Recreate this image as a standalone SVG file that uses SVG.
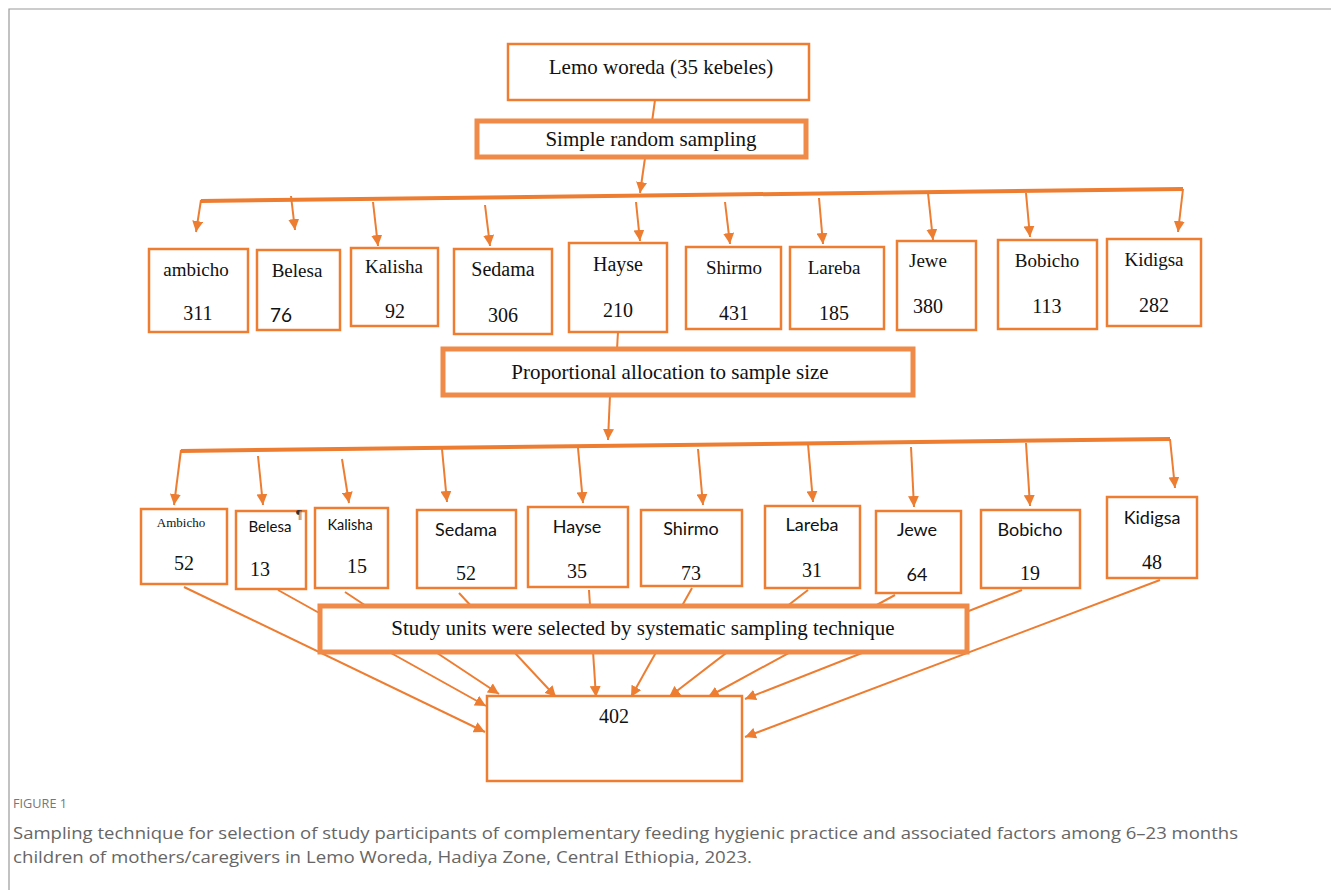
<svg xmlns="http://www.w3.org/2000/svg" width="1331" height="890" viewBox="0 0 1331 890">
<style>
.box{fill:#fff;stroke:#ED7D31;stroke-width:2.5}
.pbox{fill:#fff;stroke:#F08A48;stroke-width:5}
.ln{stroke:#ED7D31;stroke-width:2;fill:none}
.bar{stroke:#ED7D31;stroke-width:4;fill:none}
.ser{font-family:"Liberation Serif","Times New Roman",serif;font-size:19px;fill:#111;text-anchor:middle}
.big{font-size:21px}
.num{font-family:"Liberation Serif","Times New Roman",serif;font-size:20px;fill:#111;text-anchor:middle}
.sans{font-family:Lato,"Open Sans","Liberation Sans",sans-serif;font-size:18px;fill:#111;text-anchor:middle}
.cap{font-family:"Open Sans","Noto Sans","Liberation Sans",sans-serif;fill:#666}
</style>
<defs>
<marker id="ah" viewBox="0 0 10 10" refX="10" refY="5" markerWidth="11" markerHeight="11" markerUnits="userSpaceOnUse" orient="auto">
<path d="M0,0 L10,5 L0,10 z" fill="#ED7D31"/>
</marker>
</defs>
<rect width="1331" height="890" fill="#fff"/>
<path d="M9,890 V9 H1331" fill="none" stroke="#9a9a9a" stroke-width="1.2"/>

<g id="connectors">
<line class="ln" x1="655" y1="100" x2="652" y2="122"/>
<line class="ln" x1="645" y1="158" x2="640" y2="193" marker-end="url(#ah)"/>
<line class="bar" x1="201" y1="201" x2="1183" y2="189"/>
<line class="ln" x1="201" y1="200" x2="196" y2="232" marker-end="url(#ah)"/>
<line class="ln" x1="291" y1="196" x2="295" y2="230" marker-end="url(#ah)"/>
<line class="ln" x1="373" y1="202" x2="378" y2="246" marker-end="url(#ah)"/>
<line class="ln" x1="485" y1="205" x2="490" y2="246" marker-end="url(#ah)"/>
<line class="ln" x1="636" y1="202" x2="640" y2="241" marker-end="url(#ah)"/>
<line class="ln" x1="725" y1="202" x2="730" y2="244" marker-end="url(#ah)"/>
<line class="ln" x1="819" y1="198" x2="823" y2="244" marker-end="url(#ah)"/>
<line class="ln" x1="928" y1="193" x2="933" y2="240" marker-end="url(#ah)"/>
<line class="ln" x1="1026" y1="193" x2="1030" y2="237" marker-end="url(#ah)"/>
<line class="ln" x1="1183" y1="189" x2="1178" y2="232" marker-end="url(#ah)"/>
<line class="ln" x1="618" y1="332" x2="617" y2="349"/>
<line class="ln" x1="610" y1="395" x2="608" y2="440" marker-end="url(#ah)"/>
<line class="bar" x1="181" y1="451" x2="1170" y2="439"/>
<line class="ln" x1="181" y1="450" x2="174" y2="505" marker-end="url(#ah)"/>
<line class="ln" x1="258" y1="456" x2="263" y2="505" marker-end="url(#ah)"/>
<line class="ln" x1="342" y1="459" x2="349" y2="503" marker-end="url(#ah)"/>
<line class="ln" x1="442" y1="449" x2="447" y2="502" marker-end="url(#ah)"/>
<line class="ln" x1="578" y1="448" x2="583" y2="503" marker-end="url(#ah)"/>
<line class="ln" x1="698" y1="449" x2="703" y2="505" marker-end="url(#ah)"/>
<line class="ln" x1="808" y1="444" x2="813" y2="502" marker-end="url(#ah)"/>
<line class="ln" x1="911" y1="447" x2="914" y2="507" marker-end="url(#ah)"/>
<line class="ln" x1="1026" y1="443" x2="1030" y2="506" marker-end="url(#ah)"/>
<line class="ln" x1="1170" y1="439" x2="1175" y2="488" marker-end="url(#ah)"/>
<line class="ln" x1="184" y1="587" x2="485" y2="732" marker-end="url(#ah)"/>
<line class="ln" x1="278" y1="590" x2="486" y2="706" marker-end="url(#ah)"/>
<line class="ln" x1="345" y1="592" x2="499" y2="694" marker-end="url(#ah)"/>
<line class="ln" x1="459" y1="593" x2="556" y2="697" marker-end="url(#ah)"/>
<line class="ln" x1="589" y1="590" x2="596" y2="697" marker-end="url(#ah)"/>
<line class="ln" x1="692" y1="588" x2="631" y2="697" marker-end="url(#ah)"/>
<line class="ln" x1="808" y1="590" x2="669" y2="697" marker-end="url(#ah)"/>
<line class="ln" x1="895" y1="595" x2="708" y2="697" marker-end="url(#ah)"/>
<line class="ln" x1="1022" y1="590" x2="745" y2="699" marker-end="url(#ah)"/>
<line class="ln" x1="1160" y1="580" x2="745" y2="737" marker-end="url(#ah)"/>
</g>

<g id="lemo"><rect class="box" x="508" y="44" width="301" height="56"/><text class="ser big" x="661" y="74">Lemo woreda (35 kebeles)</text></g>
<g id="srs"><rect class="pbox" x="477" y="121" width="329" height="36"/><text class="ser big" x="651" y="146">Simple random sampling</text></g>

<g id="t-ambicho"><rect class="box" x="149" y="249" width="99" height="83"/><text class="ser" x="196" y="276">ambicho</text><text class="num" x="198" y="320">311</text></g>
<g id="t-belesa"><rect class="box" x="257" y="250" width="83" height="80"/><text class="ser" x="297" y="277">Belesa</text><text class="sans" x="281" y="322" style="font-size:19px">76</text></g>
<g id="t-kalisha"><rect class="box" x="351" y="248" width="87" height="78"/><text class="ser" x="394" y="273">Kalisha</text><text class="num" x="395" y="318">92</text></g>
<g id="t-sedama"><rect class="box" x="454" y="249" width="98" height="85"/><text class="ser" x="503" y="276" style="font-size:20px">Sedama</text><text class="num" x="503" y="322">306</text></g>
<g id="t-hayse"><rect class="box" x="569" y="243" width="98" height="89"/><text class="ser" x="618" y="271" style="font-size:20px">Hayse</text><text class="num" x="618" y="317">210</text></g>
<g id="t-shirmo"><rect class="box" x="686" y="247" width="95" height="82"/><text class="ser" x="734" y="274">Shirmo</text><text class="num" x="734" y="320">431</text></g>
<g id="t-lareba"><rect class="box" x="790" y="247" width="94" height="82"/><text class="ser" x="834" y="274">Lareba</text><text class="num" x="834" y="320">185</text></g>
<g id="t-jewe"><rect class="box" x="897" y="241" width="79" height="89"/><text class="ser" x="928" y="267">Jewe</text><text class="num" x="928" y="313">380</text></g>
<g id="t-bobicho"><rect class="box" x="998" y="240" width="99" height="89"/><text class="ser" x="1047" y="267">Bobicho</text><text class="num" x="1047" y="313">113</text></g>
<g id="t-kidigsa"><rect class="box" x="1107" y="239" width="94" height="87"/><text class="ser" x="1154" y="266">Kidigsa</text><text class="num" x="1154" y="312">282</text></g>

<g id="prop"><rect class="pbox" x="443" y="349" width="470" height="46"/><text class="ser big" x="670" y="379">Proportional allocation to sample size</text></g>

<g id="b-ambicho"><rect class="box" x="141" y="509" width="86" height="75"/><text class="ser" x="181" y="527" style="font-size:13px">Ambicho</text><text class="num" x="184" y="570">52</text></g>
<g id="b-belesa"><rect class="box" x="236" y="511" width="70" height="78"/><text class="sans" x="270" y="532" style="font-size:15px">Belesa</text><text class="num" x="260" y="576">13</text><text x="299" y="518" style="font-family:'Liberation Serif',serif;font-size:13px;fill:#333" text-anchor="middle">¶</text></g>
<g id="b-kalisha"><rect class="box" x="315" y="508" width="73" height="80"/><text class="sans" x="350" y="530" style="font-size:14.5px">Kalisha</text><text class="num" x="357" y="573">15</text></g>
<g id="b-sedama"><rect class="box" x="417" y="510" width="99" height="78"/><text class="sans" x="466" y="536">Sedama</text><text class="num" x="466" y="580">52</text></g>
<g id="b-hayse"><rect class="box" x="528" y="507" width="100" height="80"/><text class="sans" x="577" y="533">Hayse</text><text class="num" x="577" y="578">35</text></g>
<g id="b-shirmo"><rect class="box" x="641" y="510" width="101" height="76"/><text class="sans" x="691" y="535">Shirmo</text><text class="num" x="691" y="580">73</text></g>
<g id="b-lareba"><rect class="box" x="765" y="506" width="95" height="82"/><text class="sans" x="812" y="531">Lareba</text><text class="num" x="812" y="577">31</text></g>
<g id="b-jewe"><rect class="box" x="876" y="511" width="85" height="82"/><text class="sans" x="917" y="536">Jewe</text><text class="sans" x="917" y="581">64</text></g>
<g id="b-bobicho"><rect class="box" x="981" y="510" width="99" height="78"/><text class="sans" x="1030" y="536">Bobicho</text><text class="num" x="1030" y="580">19</text></g>
<g id="b-kidigsa"><rect class="box" x="1107" y="497" width="90" height="81"/><text class="sans" x="1152" y="524">Kidigsa</text><text class="num" x="1152" y="569">48</text></g>

<g id="systematic"><rect class="pbox" x="320" y="606" width="647" height="46"/><text class="ser big" x="643" y="635">Study units were selected by systematic sampling technique</text></g>
<g id="total"><rect class="box" x="487" y="696" width="255" height="85"/><text class="num" x="614" y="723">402</text></g>

<g id="caption">
<text class="cap" x="13" y="808" style="font-size:12.5px;fill:#777" textLength="54" lengthAdjust="spacingAndGlyphs">FIGURE 1</text>
<text class="cap" x="13" y="839" style="font-size:17px" textLength="1225" lengthAdjust="spacingAndGlyphs">Sampling technique for selection of study participants of complementary feeding hygienic practice and associated factors among 6–23 months</text>
<text class="cap" x="13" y="863" style="font-size:17px" textLength="739" lengthAdjust="spacingAndGlyphs">children of mothers/caregivers in Lemo Woreda, Hadiya Zone, Central Ethiopia, 2023.</text>
</g>
</svg>
